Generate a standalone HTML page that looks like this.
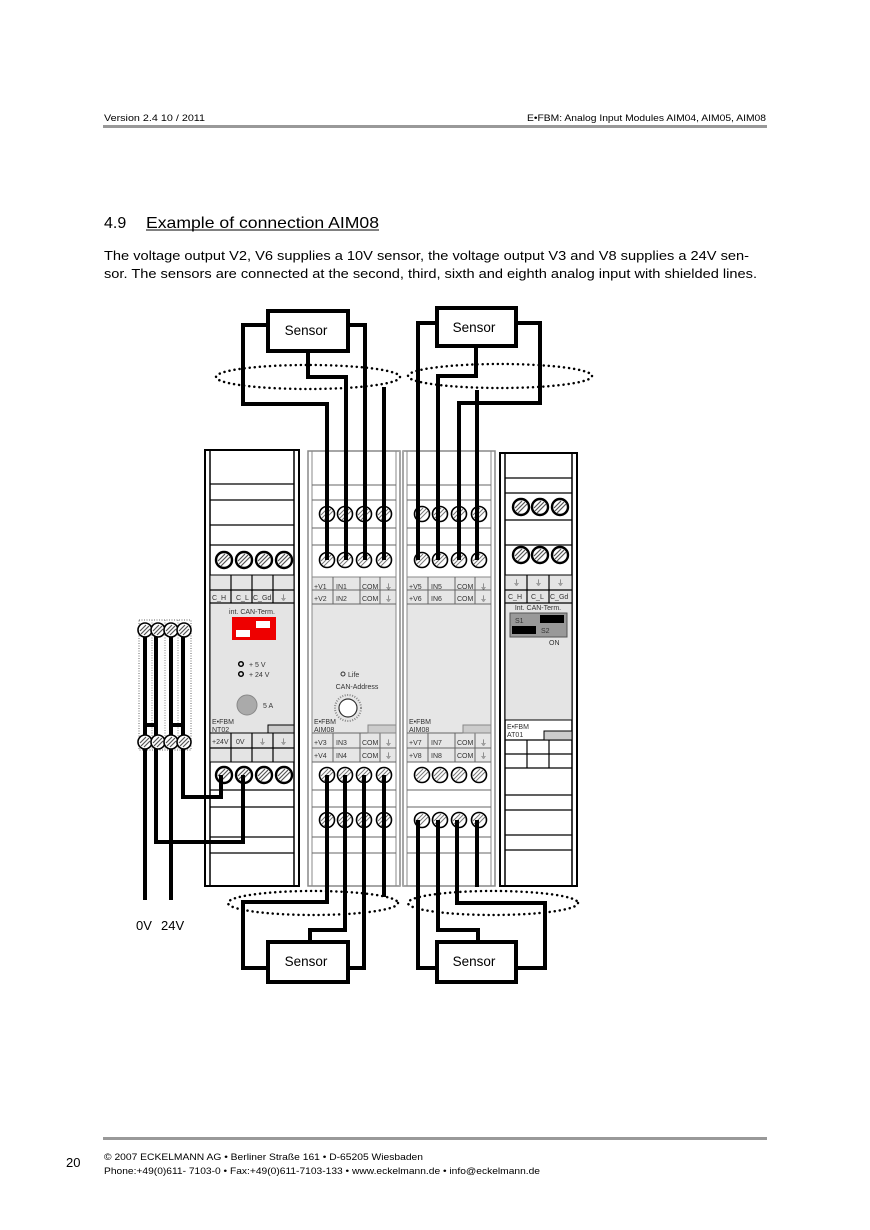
<!DOCTYPE html>
<html><head><meta charset="utf-8"><style>
html,body{margin:0;padding:0;background:#fff;}
svg{display:block;}
text{font-family:"Liberation Sans",Arial,sans-serif;}
</style></head><body>
<svg width="870" height="1230" viewBox="0 0 870 1230" xmlns="http://www.w3.org/2000/svg">
<defs>
<g id="t"><circle r="7.5" fill="#fff" stroke="#000" stroke-width="1.6"/><line x1="-5" y1="4" x2="4" y2="-5" stroke="#777" stroke-width="1"/><line x1="-3" y1="6" x2="6" y2="-3" stroke="#777" stroke-width="1"/><line x1="-6" y1="1" x2="1" y2="-6" stroke="#777" stroke-width="1"/></g>
<g id="T"><circle r="8" fill="#fff" stroke="#000" stroke-width="2.4"/><line x1="-5" y1="4" x2="4" y2="-5" stroke="#555" stroke-width="1.2"/><line x1="-3" y1="6" x2="6" y2="-3" stroke="#555" stroke-width="1.2"/><line x1="-6" y1="1" x2="1" y2="-6" stroke="#555" stroke-width="1.2"/></g>
<g id="s"><circle r="7" fill="#fff" stroke="#000" stroke-width="1.6"/><line x1="-4" y1="4" x2="4" y2="-4" stroke="#555" stroke-width="1.2"/><line x1="-5" y1="1" x2="1" y2="-5" stroke="#555" stroke-width="1.2"/><line x1="-1" y1="5" x2="5" y2="-1" stroke="#555" stroke-width="1.2"/></g>
</defs>

<!-- header -->
<text x="104" y="121" font-size="9.5" textLength="101" lengthAdjust="spacingAndGlyphs">Version 2.4  10 / 2011</text>
<text x="527" y="121" font-size="9.5" textLength="239" lengthAdjust="spacingAndGlyphs">E•FBM: Analog Input Modules AIM04, AIM05, AIM08</text>
<rect x="103" y="125" width="664" height="3" fill="#999"/>

<text x="104" y="228" font-size="16">4.9</text>
<text x="146" y="228" font-size="16" textLength="233" lengthAdjust="spacingAndGlyphs">Example of connection AIM08</text>
<line x1="146" y1="230" x2="379" y2="230" stroke="#000" stroke-width="1"/>
<text x="104" y="260" font-size="12.6" textLength="645" lengthAdjust="spacingAndGlyphs">The voltage output V2, V6 supplies a 10V sensor, the voltage output V3 and V8 supplies a 24V sen-</text>
<text x="104" y="278" font-size="12.6" textLength="653" lengthAdjust="spacingAndGlyphs">sor. The sensors are connected at the second, third, sixth and eighth analog input with shielded lines.</text>

<!-- NT02 module -->
<g stroke="#000">
<rect x="205" y="450" width="94" height="436" fill="#fff" stroke-width="2"/>
<line x1="210" y1="450" x2="210" y2="886" stroke-width="1.5"/>
<line x1="294" y1="450" x2="294" y2="886" stroke-width="1.5"/>
<rect x="210" y="575" width="84" height="158" fill="#e4e4e4" stroke-width="1"/>
<rect x="210" y="733" width="84" height="29" fill="#e4e4e4" stroke-width="1"/>
<g stroke-width="1.2">
<line x1="210" y1="484" x2="294" y2="484"/><line x1="210" y1="500" x2="294" y2="500"/>
<line x1="210" y1="525" x2="294" y2="525"/><line x1="210" y1="545" x2="294" y2="545"/>
<line x1="210" y1="590" x2="294" y2="590"/><line x1="210" y1="603" x2="294" y2="603"/>
<line x1="231" y1="575" x2="231" y2="603"/><line x1="252" y1="575" x2="252" y2="603"/><line x1="273" y1="575" x2="273" y2="603"/>
<line x1="210" y1="748" x2="294" y2="748"/>
<line x1="231" y1="733" x2="231" y2="762"/><line x1="252" y1="733" x2="252" y2="762"/><line x1="273" y1="733" x2="273" y2="762"/>
<line x1="210" y1="790" x2="294" y2="790"/><line x1="210" y1="807" x2="294" y2="807"/>
<line x1="210" y1="837" x2="294" y2="837"/><line x1="210" y1="853" x2="294" y2="853"/>
</g>
<rect x="268" y="725" width="26" height="8" fill="#ccc" stroke-width="1"/>
</g>
<use href="#T" x="224" y="560"/><use href="#T" x="244" y="560"/><use href="#T" x="264" y="560"/><use href="#T" x="284" y="560"/>
<use href="#T" x="224" y="775"/><use href="#T" x="244" y="775"/><use href="#T" x="264" y="775"/><use href="#T" x="284" y="775"/>
<g font-size="7" fill="#333">
<text x="212" y="600">C_H</text><text x="236" y="600">C_L</text><text x="253" y="600">C_Gd</text><text x="280" y="600">⏚</text>
<text x="252" y="614" text-anchor="middle">int. CAN-Term.</text>
<text x="249" y="667">+   5 V</text><text x="249" y="677">+ 24 V</text>
<text x="263" y="708">5 A</text>
<text x="212" y="724">E•FBM</text><text x="212" y="732">NT02</text>
<text x="212" y="744">+24V</text><text x="236" y="744">0V</text><text x="259" y="744">⏚</text><text x="280" y="744">⏚</text>
</g>
<rect x="232" y="617" width="44" height="23" fill="#e00"/>
<rect x="256" y="621" width="14" height="7" fill="#fff"/><rect x="236" y="630" width="14" height="7" fill="#fff"/>
<circle cx="241" cy="664" r="2.3" fill="none" stroke="#000" stroke-width="1.5"/>
<circle cx="241" cy="674" r="2.3" fill="none" stroke="#000" stroke-width="1.5"/>
<circle cx="247" cy="705" r="10" fill="#aaa" stroke="#888"/>

<!-- AIM08 modules -->
<g id="aim">
<g stroke="#888">
<rect x="308" y="451" width="92" height="435" fill="#fff" stroke-width="1.5"/>
<line x1="312" y1="451" x2="312" y2="886"/><line x1="396" y1="451" x2="396" y2="886"/>
<rect x="312" y="577" width="84" height="185" fill="#e6e6e6"/>
<g stroke="#666">
<line x1="312" y1="485" x2="396" y2="485"/><line x1="312" y1="500" x2="396" y2="500"/>
<line x1="312" y1="528" x2="396" y2="528"/><line x1="312" y1="545" x2="396" y2="545"/>
<line x1="312" y1="590" x2="396" y2="590"/><line x1="312" y1="604" x2="396" y2="604"/>
<line x1="333" y1="577" x2="333" y2="604"/><line x1="360" y1="577" x2="360" y2="604"/><line x1="380" y1="577" x2="380" y2="604"/>
<line x1="312" y1="733" x2="396" y2="733"/><line x1="312" y1="748" x2="396" y2="748"/>
<line x1="333" y1="733" x2="333" y2="762"/><line x1="360" y1="733" x2="360" y2="762"/><line x1="380" y1="733" x2="380" y2="762"/>
<line x1="312" y1="762" x2="396" y2="762"/>
<line x1="312" y1="790" x2="396" y2="790"/><line x1="312" y1="807" x2="396" y2="807"/>
<line x1="312" y1="837" x2="396" y2="837"/><line x1="312" y1="853" x2="396" y2="853"/>
</g>
<rect x="368" y="725" width="28" height="8" fill="#ccc"/>
</g>
<use href="#t" x="327" y="514"/><use href="#t" x="345" y="514"/><use href="#t" x="364" y="514"/><use href="#t" x="384" y="514"/>
<use href="#t" x="327" y="560"/><use href="#t" x="345" y="560"/><use href="#t" x="364" y="560"/><use href="#t" x="384" y="560"/>
<use href="#t" x="327" y="775"/><use href="#t" x="345" y="775"/><use href="#t" x="364" y="775"/><use href="#t" x="384" y="775"/>
<use href="#t" x="327" y="820"/><use href="#t" x="345" y="820"/><use href="#t" x="364" y="820"/><use href="#t" x="384" y="820"/>
</g>
<use href="#aim" x="95" y="0"/>
<rect x="399" y="451" width="5" height="435" fill="#fff"/>
<line x1="400" y1="451" x2="400" y2="886" stroke="#888" stroke-width="1.5"/>
<line x1="403" y1="451" x2="403" y2="886" stroke="#888" stroke-width="1.5"/>
<g font-size="7" fill="#333">
<text x="314" y="589">+V1</text><text x="336" y="589">IN1</text><text x="362" y="589">COM</text><text x="385" y="589">⏚</text>
<text x="314" y="601">+V2</text><text x="336" y="601">IN2</text><text x="362" y="601">COM</text><text x="385" y="601">⏚</text>
<text x="409" y="589">+V5</text><text x="431" y="589">IN5</text><text x="457" y="589">COM</text><text x="480" y="589">⏚</text>
<text x="409" y="601">+V6</text><text x="431" y="601">IN6</text><text x="457" y="601">COM</text><text x="480" y="601">⏚</text>
<text x="348" y="677">Life</text><text x="357" y="689" text-anchor="middle">CAN-Address</text>
<text x="314" y="724">E•FBM</text><text x="314" y="732">AIM08</text>
<text x="409" y="724">E•FBM</text><text x="409" y="732">AIM08</text>
<text x="314" y="745">+V3</text><text x="336" y="745">IN3</text><text x="362" y="745">COM</text><text x="385" y="745">⏚</text>
<text x="314" y="758">+V4</text><text x="336" y="758">IN4</text><text x="362" y="758">COM</text><text x="385" y="758">⏚</text>
<text x="409" y="745">+V7</text><text x="431" y="745">IN7</text><text x="457" y="745">COM</text><text x="480" y="745">⏚</text>
<text x="409" y="758">+V8</text><text x="431" y="758">IN8</text><text x="457" y="758">COM</text><text x="480" y="758">⏚</text>
</g>
<circle cx="343" cy="674" r="2" fill="none" stroke="#333"/>
<circle cx="348" cy="708" r="9" fill="#fff" stroke="#333" stroke-width="1.2"/>
<circle cx="348" cy="708" r="13" fill="none" stroke="#888" stroke-width="2" stroke-dasharray="1 1.5"/>

<!-- AT01 -->
<g stroke="#000">
<rect x="500" y="453" width="77" height="433" fill="#fff" stroke-width="2"/>
<line x1="505" y1="453" x2="505" y2="886" stroke-width="1.5"/><line x1="572" y1="453" x2="572" y2="886" stroke-width="1.5"/>
<rect x="505" y="575" width="67" height="145" fill="#e4e4e4" stroke-width="1"/>
<g stroke-width="1.2">
<line x1="505" y1="478" x2="572" y2="478"/><line x1="505" y1="493" x2="572" y2="493"/>
<line x1="505" y1="520" x2="572" y2="520"/><line x1="505" y1="545" x2="572" y2="545"/>
<line x1="505" y1="590" x2="572" y2="590"/><line x1="505" y1="603" x2="572" y2="603"/>
<line x1="527" y1="575" x2="527" y2="603"/><line x1="549" y1="575" x2="549" y2="603"/>
<line x1="505" y1="740" x2="572" y2="740"/><line x1="505" y1="754" x2="572" y2="754"/><line x1="505" y1="768" x2="572" y2="768"/>
<line x1="527" y1="740" x2="527" y2="768"/><line x1="549" y1="740" x2="549" y2="768"/>
<line x1="505" y1="795" x2="572" y2="795"/><line x1="505" y1="810" x2="572" y2="810"/>
<line x1="505" y1="835" x2="572" y2="835"/><line x1="505" y1="850" x2="572" y2="850"/>
</g>
<rect x="544" y="731" width="28" height="9" fill="#ccc" stroke-width="1"/>
</g>
<use href="#T" x="521" y="507"/><use href="#T" x="540" y="507"/><use href="#T" x="560" y="507"/>
<use href="#T" x="521" y="555"/><use href="#T" x="540" y="555"/><use href="#T" x="560" y="555"/>
<rect x="510" y="613" width="57" height="24" fill="#999" stroke="#555"/>
<rect x="540" y="615" width="24" height="8" fill="#000"/><rect x="512" y="626" width="24" height="8" fill="#000"/>
<g font-size="7" fill="#333">
<text x="513" y="585">⏚</text><text x="535" y="585">⏚</text><text x="557" y="585">⏚</text>
<text x="508" y="599">C_H</text><text x="531" y="599">C_L</text><text x="550" y="599">C_Gd</text>
<text x="538" y="610" text-anchor="middle">Int. CAN-Term.</text>
<text x="515" y="623">S1</text><text x="541" y="633">S2</text>
<text x="549" y="645">ON</text>
<text x="507" y="729">E•FBM</text><text x="507" y="737">AT01</text>
</g>

<!-- left terminal strip -->
<rect x="139" y="620" width="52" height="130" fill="none" stroke="#666" stroke-dasharray="1 1.5"/>
<line x1="152" y1="620" x2="152" y2="750" stroke="#888" stroke-dasharray="1 1.5"/>
<line x1="165" y1="620" x2="165" y2="750" stroke="#888" stroke-dasharray="1 1.5"/>
<line x1="178" y1="620" x2="178" y2="750" stroke="#888" stroke-dasharray="1 1.5"/>

<!-- wires -->
<g fill="none" stroke="#000" stroke-width="4" stroke-linejoin="miter">
<path d="M145 630 V900"/>
<path d="M171 630 V900"/>
<path d="M156 630 V842 H243 V775"/>
<path d="M183 630 V742 M183 742 V797 H221 V775"/>
<path d="M145 725 H156 M171 725 H183"/>
<path d="M268 325 H243 V404 H327 V560"/>
<path d="M308 352 V377 H346 V560"/>
<path d="M348 325 H365 V560"/>
<path d="M384 387 V560"/>
<path d="M437 323 H418 V560"/>
<path d="M476 346 V376 H438 V560"/>
<path d="M516 323 H540 V403 H459 V560"/>
<path d="M477 390 V560"/>
<path d="M327 775 V902 H243 V968 H268"/>
<path d="M345 775 V930 H310 V942"/>
<path d="M364 775 V968 H348"/>
<path d="M384 775 V897"/>
<path d="M418 820 V968 H437"/>
<path d="M438 820 V930 H478 V942"/>
<path d="M457 820 V903 H545 V968 H516"/>
<path d="M477 820 V887"/>
</g>
<use href="#s" x="145" y="630"/><use href="#s" x="158" y="630"/><use href="#s" x="171" y="630"/><use href="#s" x="184" y="630"/>
<use href="#s" x="145" y="742"/><use href="#s" x="158" y="742"/><use href="#s" x="171" y="742"/><use href="#s" x="184" y="742"/>

<!-- shield ellipses -->
<g fill="none" stroke="#000" stroke-width="2.5" stroke-dasharray="0.1 5" stroke-linecap="round">
<ellipse cx="308" cy="377" rx="92" ry="12"/>
<ellipse cx="500" cy="376" rx="92" ry="12"/>
<ellipse cx="313" cy="903" rx="85" ry="12"/>
<ellipse cx="493" cy="903" rx="85" ry="12"/>
</g>

<!-- sensors -->
<g fill="#fff" stroke="#000" stroke-width="4">
<rect x="268" y="311" width="80" height="40"/>
<rect x="437" y="308" width="79" height="38"/>
<rect x="268" y="942" width="80" height="40"/>
<rect x="437" y="942" width="79" height="40"/>
</g>
<g font-size="13.5" text-anchor="middle">
<text x="306" y="335">Sensor</text>
<text x="474" y="332">Sensor</text>
<text x="306" y="966">Sensor</text>
<text x="474" y="966">Sensor</text>
</g>
<text x="136" y="930" font-size="13">0V</text>
<text x="161" y="930" font-size="13">24V</text>

<!-- footer -->
<rect x="103" y="1137" width="664" height="3" fill="#999"/>
<text x="66" y="1167" font-size="13">20</text>
<text x="104" y="1160" font-size="9.5" textLength="319" lengthAdjust="spacingAndGlyphs">©  2007 ECKELMANN AG • Berliner Straße 161 • D-65205 Wiesbaden</text>
<text x="104" y="1174" font-size="9.5" textLength="436" lengthAdjust="spacingAndGlyphs">Phone:+49(0)611- 7103-0 • Fax:+49(0)611-7103-133 • www.eckelmann.de • info@eckelmann.de</text>
</svg>
</body></html>
